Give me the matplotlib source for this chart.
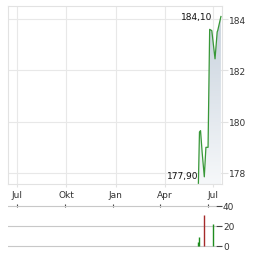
import numpy as np
import pandas as pd
import matplotlib
matplotlib.use("Agg")
import matplotlib.pyplot as plt
import matplotlib.dates as mdates
from matplotlib.colors import LinearSegmentedColormap

# price series
price_dates = pd.to_datetime(["2024-06-03", "2024-06-05", "2024-06-07", "2024-06-10",
                              "2024-06-14", "2024-06-17", "2024-06-21", "2024-06-24",
                              "2024-06-28", "2024-07-04", "2024-07-08", "2024-07-09",
                              "2024-07-15"])
prices = [177.6, 179.6, 179.65, 178.8, 177.85, 179.0, 179.0, 183.6,
          183.55, 182.45, 183.5, 183.55, 184.1]

# volume bars
vol_dates = pd.to_datetime(["2024-06-13", "2024-06-15", "2024-06-24", "2024-07-12"])
volumes = [4, 9.5, 31, 22.5]
vol_colors = ["#1e8c1e", "#1e8c1e", "#a52a2a", "#1e8c1e"]

tick_dates = pd.to_datetime(["2023-07-01", "2023-10-01", "2024-01-01", "2024-04-01", "2024-07-01"])
tick_labels = ["Jul", "Okt", "Jan", "Apr", "Jul"]

max_label = "184,10"
min_label = "177,90"
min_value = 177.9

x0, x1 = pd.Timestamp("2023-06-14"), pd.Timestamp("2024-07-17")
y0, y1 = 177.57, 184.51

W, H = 264, 255
fig = plt.figure(figsize=(W / 100, H / 100), dpi=100)
txt = "#333333"
fs = 6.5

ax = fig.add_axes([8 / W, (H - 185) / H, 214 / W, 178 / H])
ax.set_xlim(x0, x1)
ax.set_ylim(y0, y1)

# gradient fill under the line
poly = ax.fill_between(price_dates, prices, y0, color="none", lw=0)
cmap = LinearSegmentedColormap.from_list("g", ["#f6f8fa", "#c8d2dd"])
grad = np.linspace(0, 1, 256).reshape(-1, 1)
im = ax.imshow(grad, extent=[mdates.date2num(x0), mdates.date2num(x1), y0, 184.1],
               origin="lower", aspect="auto", cmap=cmap, zorder=1)
im.set_clip_path(poly.get_paths()[0], transform=ax.transData)

ax.plot(price_dates, prices, color="#389838", lw=0.9, zorder=3)
ax.set_xlim(x0, x1)
ax.set_ylim(y0, y1)

imax = int(np.argmax(prices))
ax.annotate(max_label, (price_dates[imax], prices[imax]), xytext=(-6, 0),
            textcoords="offset points", ha="right", va="center", fontsize=fs, color="#111111")
ax.annotate(min_label, (price_dates[0], min_value), xytext=(0, 0),
            textcoords="offset points", ha="right", va="center", fontsize=fs, color="#111111")

ax.set_xticks(tick_dates)
ax.set_xticklabels(tick_labels)
ax.set_yticks([178, 180, 182, 184])
ax.yaxis.tick_right()
ax.grid(True, color="#e8e8e8", lw=0.8)
ax.set_axisbelow(True)
for s in ax.spines.values():
    s.set_color("#e2e2e2")
    s.set_linewidth(0.8)
ax.tick_params(axis="x", length=2, color="#e2e2e2", labelsize=fs, labelcolor=txt, pad=2)
ax.tick_params(axis="y", length=4, color="#e2e2e2", labelsize=fs, labelcolor=txt, pad=1)

# volume panel
ax2 = fig.add_axes([8 / W, (H - 249) / H, 208 / W, 44 / H])
ax2.vlines(vol_dates, 0, volumes, colors=vol_colors, lw=1.0, zorder=3)
ax2.set_xlim(x0, x1)
ax2.set_ylim(-2, 42)
ax2.set_yticks([0, 20, 40])
ax2.yaxis.tick_right()
ax2.grid(True, axis="y", color="#c8c8c8", lw=0.8)
ax2.set_axisbelow(True)
ax2.set_xticks(tick_dates)
ax2.tick_params(axis="x", top=True, bottom=False, labelbottom=False, direction="in",
                length=2, color="#444444")
ax2.tick_params(axis="y", length=4, color="#444444", labelsize=fs, labelcolor=txt, pad=1)
for s in ax2.spines.values():
    s.set_visible(False)

fig.savefig("out.png", dpi=100)
